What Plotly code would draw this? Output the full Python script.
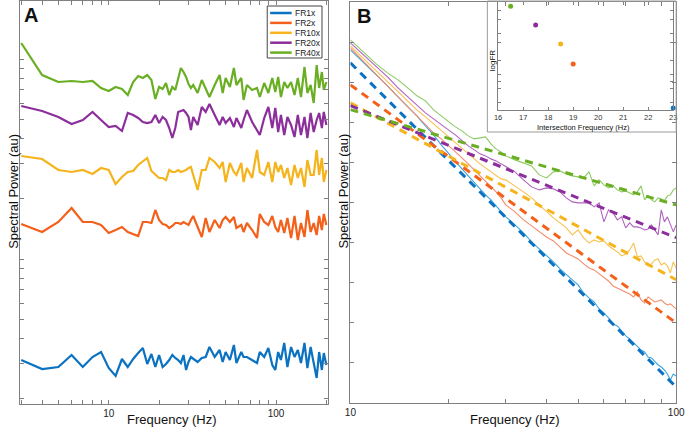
import numpy as np
import plotly.graph_objects as go

# Panel A: spectra (log10 spectral power) per firing-rate condition
freq_a = [3, 4, 5, 6, 7, 8, 9, 10, 11, 12, 13, 14, 15, 16, 17, 18, 19, 20, 21, 22,
          23, 24, 25, 26, 27, 28, 29, 30, 31, 32, 34, 36, 38, 40, 43, 46, 48, 50, 53, 56,
          58, 62, 64, 67, 72, 77, 80, 85, 90, 95, 99, 103, 107, 112, 117, 123, 129, 135, 141, 148,
          154, 161, 168, 175, 181, 188, 193, 200]

green_a = [1.08, 0.92, 0.885, 0.89, 0.885, 0.89, 0.855, 0.84, 0.86, 0.85,
           0.82, 0.885, 0.915, 0.905, 0.92, 0.895, 0.80, 0.86, 0.85, 0.88,
           0.82, 0.86, 0.845, 0.895, 0.955, 0.935, 0.91, 0.875, 0.855, 0.87,
           0.83, 0.895, 0.855, 0.81, 0.87, 0.92, 0.83, 0.905, 0.86, 0.955,
           0.87, 0.905, 0.795, 0.87, 0.845, 0.855, 0.81, 0.88, 0.83, 0.905,
           0.835, 0.91, 0.81, 0.885, 0.855, 0.885, 0.82, 0.905, 0.81, 0.96,
           0.83, 0.87, 0.78, 0.97, 0.855, 0.935, 0.845, 0.885]
purple_a = [0.765, 0.74, 0.71, 0.675, 0.695, 0.735, 0.695, 0.66, 0.665, 0.64,
            0.73, 0.72, 0.705, 0.685, 0.68, 0.685, 0.72, 0.68, 0.71, 0.695,
            0.655, 0.605, 0.655, 0.735, 0.74, 0.745, 0.73, 0.71, 0.645, 0.71,
            0.67, 0.76, 0.735, 0.775, 0.72, 0.67, 0.71, 0.68, 0.705, 0.66,
            0.705, 0.655, 0.695, 0.745, 0.685, 0.645, 0.62, 0.705, 0.76, 0.655,
            0.755, 0.635, 0.72, 0.62, 0.71, 0.67, 0.61, 0.72, 0.62, 0.71,
            0.605, 0.73, 0.635, 0.695, 0.73, 0.655, 0.735, 0.67]
yellow_a = [0.515, 0.5, 0.445, 0.435, 0.445, 0.425, 0.455, 0.445, 0.375, 0.41,
            0.435, 0.44, 0.47, 0.49, 0.505, 0.44, 0.42, 0.405, 0.405, 0.395,
            0.445, 0.435, 0.435, 0.445, 0.435, 0.44, 0.445, 0.455, 0.46, 0.42,
            0.345, 0.445, 0.445, 0.505, 0.485, 0.455, 0.485, 0.385, 0.48, 0.435,
            0.42, 0.48, 0.385, 0.455, 0.405, 0.545, 0.435, 0.42, 0.485, 0.385,
            0.485, 0.435, 0.47, 0.405, 0.455, 0.37, 0.47, 0.405, 0.455, 0.36,
            0.495, 0.42, 0.42, 0.545, 0.42, 0.505, 0.385, 0.445]
orange_a = [0.175, 0.135, 0.185, 0.255, 0.185, 0.185, 0.17, 0.13, 0.145, 0.16,
            0.135, 0.125, 0.115, 0.185, 0.185, 0.18, 0.245, 0.195, 0.175, 0.17,
            0.155, 0.165, 0.18, 0.18, 0.175, 0.185, 0.175, 0.17, 0.195, 0.215,
            0.16, 0.11, 0.205, 0.135, 0.195, 0.155, 0.195, 0.21, 0.185, 0.21,
            0.155, 0.17, 0.135, 0.18, 0.145, 0.105, 0.225, 0.185, 0.17, 0.215,
            0.16, 0.135, 0.195, 0.13, 0.205, 0.105, 0.215, 0.095, 0.18, 0.11,
            0.245, 0.135, 0.18, 0.12, 0.215, 0.145, 0.225, 0.17]
blue_a = [-0.505, -0.55, -0.54, -0.48, -0.54, -0.49, -0.465, -0.545, -0.585, -0.5,
          -0.54, -0.5, -0.47, -0.445, -0.525, -0.475, -0.54, -0.48, -0.54, -0.525,
          -0.505, -0.48, -0.495, -0.505, -0.52, -0.48, -0.555, -0.515, -0.49, -0.5,
          -0.515, -0.495, -0.49, -0.44, -0.49, -0.455, -0.515, -0.465, -0.505, -0.43,
          -0.52, -0.465, -0.49, -0.49, -0.505, -0.52, -0.465, -0.49, -0.445, -0.53,
          -0.555, -0.465, -0.505, -0.42, -0.54, -0.44, -0.49, -0.455, -0.52, -0.42,
          -0.545, -0.44, -0.52, -0.595, -0.465, -0.555, -0.47, -0.53]

# Panel B: spectra 10-100 Hz (log10 power) and straight power-law fits
freq_b = [10, 11, 12, 13, 14, 15, 16, 17, 18, 19, 20, 21, 22, 23, 24, 25, 26, 27, 28, 29,
          30, 32, 34, 36, 38, 40, 42, 44, 46, 48, 50, 52, 54, 56, 58, 60, 62, 64, 66, 68,
          70, 72, 74, 76, 78, 80, 82, 84, 86, 88, 90, 92, 94, 96, 98, 100]

green_b = [9.075, 8.75, 8.475, 8.25, 8.075, 7.875, 7.675, 7.55, 7.325, 7.175,
           7.025, 6.9, 6.8, 6.675, 6.6, 6.625, 6.65, 6.475, 6.35, 6.275,
           6.175, 6.075, 6.0, 5.925, 5.7, 5.625, 5.775, 5.8, 5.725, 5.675,
           5.65, 5.625, 5.775, 5.425, 5.575, 5.45, 5.375, 5.425, 5.325, 5.275,
           5.3, 5.25, 5.2, 5.275, 5.425, 5.075, 5.175, 5.075, 5.025, 5.125,
           5.1, 5.05, 5.175, 5.2, 5.325, 5.375]
purple_b = [9.0, 8.7, 8.425, 8.15, 7.875, 7.65, 7.45, 7.25, 7.1, 6.95,
            6.825, 6.7, 6.55, 6.425, 6.325, 6.225, 6.175, 6.1, 6.05, 5.975,
            5.9, 5.775, 5.575, 5.4, 5.325, 5.375, 5.35, 5.275, 5.125, 5.025,
            5.0, 5.0, 5.0, 4.9, 5.0, 4.525, 4.825, 4.75, 4.575, 4.65,
            4.375, 4.5, 4.4, 4.4, 4.375, 4.325, 4.35, 4.45, 4.325, 4.2,
            4.825, 4.525, 4.65, 4.45, 4.275, 4.45]
yellow_b = [8.925, 8.6, 8.3, 8.025, 7.775, 7.55, 7.325, 7.15, 6.975, 6.8,
            6.65, 6.5, 6.35, 6.225, 6.1, 5.975, 5.875, 5.775, 5.675, 5.6,
            5.575, 5.425, 5.275, 5.125, 4.95, 4.775, 4.625, 4.5, 4.375, 4.2,
            4.325, 4.125, 4.0, 4.075, 4.025, 4.05, 3.925, 3.85, 3.775, 3.675,
            3.725, 3.825, 4.0, 3.65, 3.675, 3.525, 3.425, 3.475, 3.575, 3.6,
            3.45, 3.5, 3.425, 3.25, 3.525, 3.375]
orange_b = [8.875, 8.525, 8.2, 7.925, 7.65, 7.4, 7.175, 6.95, 6.75, 6.6,
            6.425, 6.275, 6.125, 5.975, 5.825, 5.675, 5.525, 5.4, 5.275, 5.125,
            4.95, 4.775, 4.575, 4.425, 4.275, 4.15, 4.05, 3.9, 3.75, 3.675,
            3.6, 3.475, 3.375, 3.325, 3.225, 3.15, 3.05, 2.925, 2.875, 2.825,
            2.775, 2.725, 2.65, 2.775, 2.575, 2.5, 2.65, 2.575, 2.525, 2.55,
            2.575, 2.5, 2.45, 2.475, 2.4, 2.35]
blue_b = [8.825, 8.5, 8.2, 7.925, 7.65, 7.4, 7.175, 6.925, 6.7, 6.45,
          6.25, 6.05, 5.85, 5.675, 5.5, 5.35, 5.2, 5.075, 4.925, 4.775,
          4.65, 4.45, 4.25, 4.025, 3.85, 3.675, 3.525, 3.35, 3.2, 3.075,
          2.95, 2.75, 2.625, 2.525, 2.35, 2.25, 2.125, 1.975, 1.925, 1.8,
          1.675, 1.6, 1.5, 1.425, 1.325, 1.275, 1.15, 1.125, 1.025, 0.95,
          0.9, 0.825, 0.725, 0.575, 0.725, 0.675]

fit_freq = [10, 100]
fit_green = [7.33, 4.95]
fit_purple = [7.43, 4.13]
fit_yellow = [7.5, 3.08]
fit_orange = [7.95, 2.0]
fit_blue = [8.5, 0.4]

# Inset: intersection frequency vs firing rate
isect_freq = [23.0, 19.0, 18.5, 17.5, 16.5]
log_fr = [0.23, 1.36, 1.87, 2.36, 2.84]

names = ["FR1x", "FR2x", "FR10x", "FR20x", "FR40x"]
dark = ["#0A72C0", "#F4601A", "#F5B41C", "#8C2F9C", "#6AAF23"]
light = ["#3DA4DE", "#F58C6E", "#F8C14E", "#B062C0", "#8CCB62"]

spectra_a = [blue_a, orange_a, yellow_a, purple_a, green_a]
spectra_b = [blue_b, orange_b, yellow_b, purple_b, green_b]
fits = [fit_blue, fit_orange, fit_yellow, fit_purple, fit_green]

FONT = "Arial, 'Liberation Sans', sans-serif"
W, H = 693, 428

fig = go.Figure()

for vals, col, nm in zip(spectra_a, dark, names):
    fig.add_trace(go.Scatter(x=freq_a, y=np.power(10.0, vals), mode="lines", name=nm,
                             line=dict(color=col, width=2.2), xaxis="x", yaxis="y"))

for vals, col in zip(spectra_b, light):
    fig.add_trace(go.Scatter(x=freq_b, y=np.power(10.0, vals), mode="lines",
                             line=dict(color=col, width=1.1), xaxis="x2", yaxis="y2"))
for vals, col in zip(fits, dark):
    fig.add_trace(go.Scatter(x=fit_freq, y=np.power(10.0, vals), mode="lines",
                             line=dict(color=col, width=3, dash="8px,6px"), xaxis="x2", yaxis="y2"))

fig.add_trace(go.Scatter(x=isect_freq, y=log_fr, mode="markers", cliponaxis=False,
                         marker=dict(color=dark, size=5), xaxis="x3", yaxis="y3"))

axis_style = dict(showline=True, linecolor="#808080", linewidth=1, mirror="ticks",
                  ticks="inside", ticklen=4, tickcolor="#808080", showgrid=False,
                  zeroline=False, tickfont=dict(size=10, color="#222"))

fa_ticks = [3, 4, 5, 6, 7, 8, 9, 10, 20, 30, 40, 50, 60, 70, 80, 90, 100, 200]
fb_ticks = [10, 20, 30, 40, 50, 60, 70, 80, 90, 100]
pa_ticks = [0.2, 0.3, 0.4, 0.5, 0.6, 0.7, 0.8, 0.9, 1, 2, 3, 4, 5, 6, 7, 8, 9, 10, 20]
pb_ticks = [10.0 ** k for k in range(1, 10)]

fig.update_layout(
    width=W, height=H, margin=dict(l=0, r=0, t=0, b=0),
    paper_bgcolor="white", plot_bgcolor="rgba(0,0,0,0)",
    showlegend=False, font=dict(family=FONT, color="#222"),
    xaxis=dict(axis_style, type="log", domain=[14 / W, 329 / W], range=[0.468, 2.31],
               tickvals=fa_ticks, ticktext=["" if t not in (10, 100) else str(t) for t in fa_ticks],
               anchor="y"),
    yaxis=dict(axis_style, type="log", domain=[1 - 404 / H, 1 - 1 / H], range=[-0.725, 1.29],
               tickvals=pa_ticks, showticklabels=False, anchor="x"),
    xaxis2=dict(axis_style, type="log", domain=[352 / W, 685 / W], range=[1, 2],
                tickvals=fb_ticks, ticktext=["" if t not in (10, 100) else str(t) for t in fb_ticks],
                anchor="y2"),
    yaxis2=dict(axis_style, type="log", domain=[1 - 403 / H, 1 - 2 / H], range=[0, 10.02],
                tickvals=pb_ticks, showticklabels=False, anchor="x2"),
    xaxis3=dict(axis_style, domain=[503 / W, 682 / W], range=[16, 23], dtick=1,
                tickfont=dict(size=7.5, color="#333"), ticklen=3, anchor="y3"),
    yaxis3=dict(axis_style, domain=[1 - 110 / H, 1 - 2 / H], range=[0.18, 2.95],
                tickvals=[0.36, 0.72, 0.9, 1.08, 1.44, 1.9, 2.15, 2.51, 2.74],
                showticklabels=False, ticklen=3, anchor="x3"),
)

shapes = [
    # inset frame
    dict(type="rect", xref="paper", yref="paper", x0=492 / W, x1=685 / W, y0=1 - 132 / H, y1=1 - 1 / H,
         line=dict(color="#9a9a9a", width=1), fillcolor="rgba(0,0,0,0)", layer="above"),
    # legend box for panel A
    dict(type="rect", xref="paper", yref="paper", x0=267 / W, x1=323 / W, y0=1 - 58 / H, y1=1 - 6 / H,
         line=dict(color="#444", width=1), fillcolor="white", layer="above"),
]
annotations = []
for i, (nm, col) in enumerate(zip(names, dark)):
    ypix = 13 + i * 9.9
    shapes.append(dict(type="line", xref="paper", yref="paper", x0=270 / W, x1=292 / W,
                       y0=1 - ypix / H, y1=1 - ypix / H, line=dict(color=col, width=2.5), layer="above"))
    annotations.append(dict(text=nm, xref="paper", yref="paper", x=293 / W, y=1 - ypix / H,
                            xanchor="left", yanchor="middle", showarrow=False,
                            font=dict(size=8.5, color="#222")))

labels = [
    ("<b>A</b>", 26, 15, 0, 20),
    ("<b>B</b>", 366, 16, 0, 20),
    ("Spectral Power (au)", 7, 191, -90, 13),
    ("Spectral Power (au)", 344, 191, -90, 13),
    ("Frequency (Hz)", 170, 419, 0, 13),
    ("Frequency (Hz)", 520, 419, 0, 13),
    ("Intersection Frequency (Hz)", 590, 127.5, 0, 7.5),
    ("logFR", 497, 60, -90, 8),
]
for txt, px, py, ang, sz in labels:
    annotations.append(dict(text=txt, xref="paper", yref="paper", x=px / W, y=1 - py / H,
                            xanchor="center", yanchor="middle", textangle=ang, showarrow=False,
                            font=dict(size=sz, color="#111")))

fig.update_layout(shapes=shapes, annotations=annotations)

# the page body keeps its default 8px margin otherwise
fig.write_html("out.html", config={"displayModeBar": False},
               post_script="document.body.style.margin = '0px';")
